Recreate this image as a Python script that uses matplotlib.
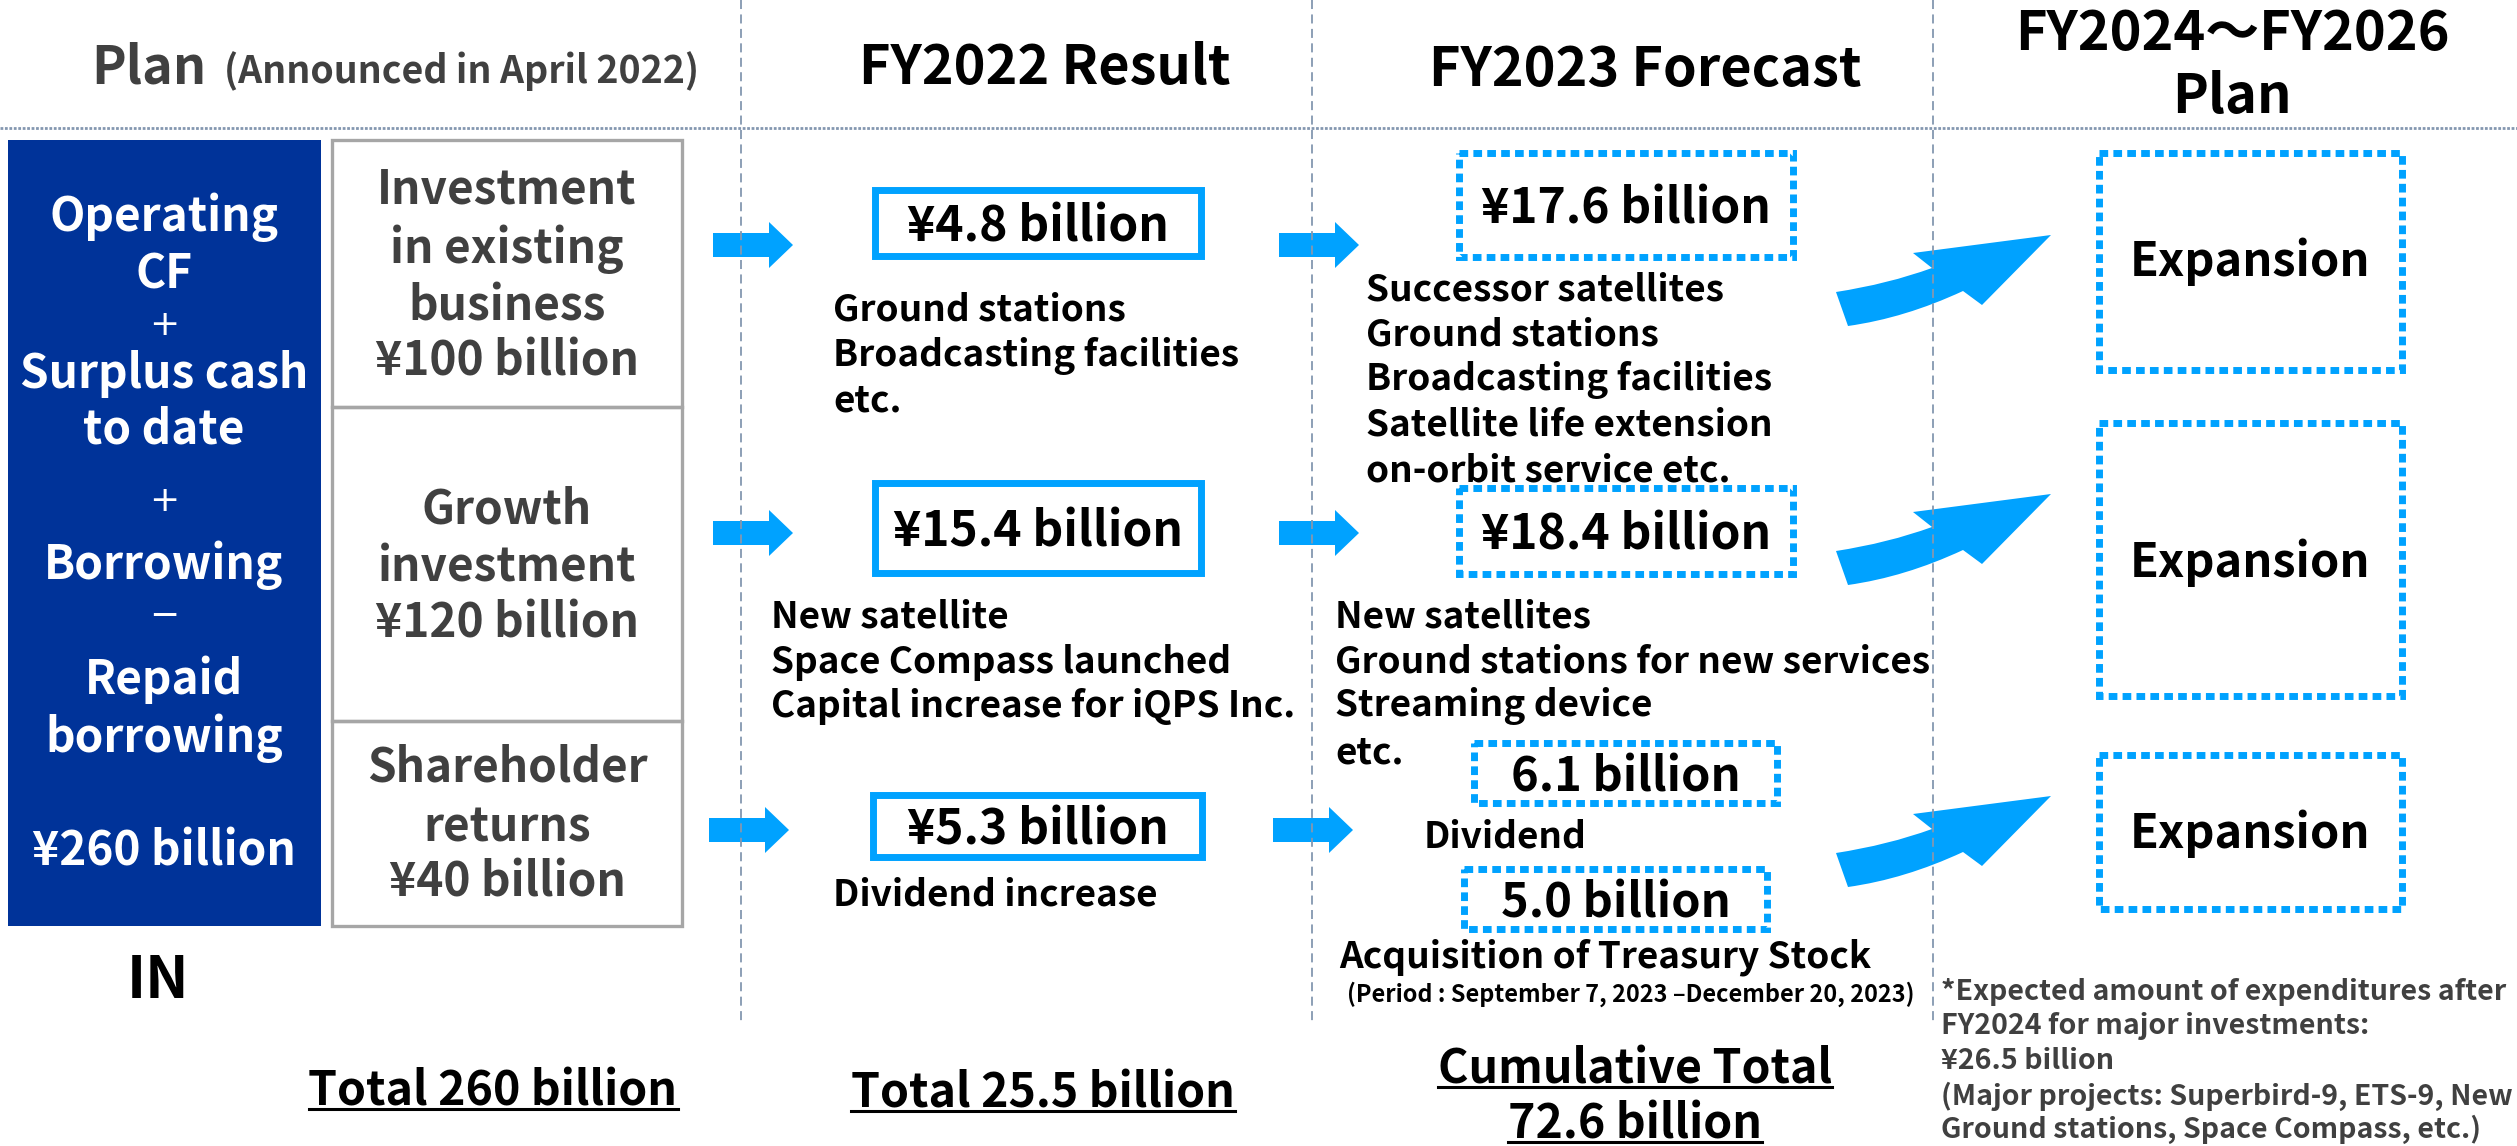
import matplotlib
matplotlib.use("Agg")
import matplotlib.pyplot as plt
from matplotlib.patches import Rectangle, PathPatch
from matplotlib.path import Path

plt.rcParams['font.family'] = ['Noto Sans CJK JP', 'DejaVu Sans']
plt.rcParams['font.weight'] = 'bold'

# ===== Data =====
column_titles = ["FY2022 Result", "FY2023 Forecast", "FY2024～FY2026\nPlan"]
source_lines = ["Operating", "CF", "+", "Surplus cash", "to date", "+",
                "Borrowing", "\u2212", "Repaid", "borrowing", "¥260 billion"]
plan_names = [["Investment", "in existing", "business"],
              ["Growth", "investment"],
              ["Shareholder", "returns"]]
plan_amounts = [100, 120, 40]
fy2022_amounts = [4.8, 15.4, 5.3]
fy2022_notes = [["Ground stations", "Broadcasting facilities", "etc."],
                ["New satellite", "Space Compass launched", "Capital increase for iQPS Inc."],
                ["Dividend increase"]]
fy2023_invest = [17.6, 18.4]
fy2023_notes = [["Successor satellites", "Ground stations", "Broadcasting facilities",
                 "Satellite life extension", "on-orbit service etc."],
                ["New satellites", "Ground stations for new services", "Streaming device", "etc."]]
fy2023_returns = [6.1, 5.0]
fy2023_return_labels = ["Dividend", "Acquisition of Treasury Stock"]
buyback_period = "(Period : September 7, 2023 \u2013December 20, 2023)"
plan_label = "Expansion"
footnote = ["*Expected amount of expenditures after", "FY2024 for major investments:",
            "¥26.5 billion", "(Major projects: Superbird-9, ETS-9, New",
            "Ground stations, Space Compass, etc.)"]

total_plan = sum(plan_amounts)
total_2022 = sum(fy2022_amounts)
total_cum = total_2022 + sum(fy2023_invest) + sum(fy2023_returns)

# ===== Styles =====
NAVY = '#003399'
CYAN = '#00A2FF'
GRID = '#8497B0'
DARK = '#404040'

W, H = 2517, 1146
fig = plt.figure(figsize=(W / 100, H / 100), dpi=100)
ax = fig.add_axes([0, 0, 1, 1])
ax.set_xlim(0, W)
ax.set_ylim(H, 0)
ax.axis('off')


def pt(px):
    return px * 0.72


def txt(x, y, s, size, color='black', ha='center', **kw):
    # nudge down a bit: matplotlib centres on the full line box incl. descent
    return ax.text(x, y + 0.09 * size, s, fontsize=pt(size), color=color, ha=ha,
                   va='center', fontweight='bold', **kw)


def stack(x, ys, items, size, color='black', ha='center'):
    for y, s in zip(ys, items):
        txt(x, y, s, size, color, ha)


def right_arrow(x0, x1, yc):
    hx = x1 - 24
    verts = [(x0, yc - 12), (hx, yc - 12), (hx, yc - 23), (x1, yc), (hx, yc + 23),
             (hx, yc + 12), (x0, yc + 12), (x0, yc - 12)]
    ax.add_patch(plt.Polygon(verts, closed=True, color=CYAN, lw=0))


def curved_arrow(t):
    verts = [(1836, t + 57), (1888, t + 49), (1932, t + 33), (1913, t + 18),
             (2051, t), (1982, t + 70), (1963, t + 56), (1905, t + 83),
             (1848, t + 91), (1836, t + 57)]
    codes = [Path.MOVETO, Path.CURVE3, Path.CURVE3, Path.LINETO, Path.LINETO,
             Path.LINETO, Path.LINETO, Path.CURVE3, Path.CURVE3, Path.CLOSEPOLY]
    ax.add_patch(PathPatch(Path(verts, codes), color=CYAN, lw=0))


def box(x0, y0, x1, y1, dotted=False):
    ls = (0, (1.25, 0.75)) if dotted else '-'
    ax.add_patch(Rectangle((x0, y0), x1 - x0, y1 - y0, fill=False,
                           edgecolor=CYAN, lw=5, linestyle=ls,
                           capstyle='butt', joinstyle='miter'))


# ===== Grid lines =====
ax.plot([0, W], [128, 128], color=GRID, lw=2, ls=(0, (1, 0.6)))
for x in [741, 1312, 1933]:
    ax.plot([x, x], [0, 1023], color=GRID, lw=1.3, ls=(0, (5, 3)))

# ===== Headers =====
txt(91, 63, "Plan", 52, DARK, ha='left')
txt(224, 68, "(Announced in April 2022)", 37.5, DARK, ha='left')
txt(1045, 64, column_titles[0], 54)
txt(1645, 66, column_titles[1], 54)
t1, t2 = column_titles[2].split("\n")
txt(2232, 30, t1, 54)
txt(2232, 93, t2, 54)

# ===== Source box =====
ax.add_patch(Rectangle((8, 140), 313, 786, color=NAVY, lw=0))
src_y = [213, 270, 325, 370, 425, 501, 561, 616, 676, 734, 847]
for y, s in zip(src_y, source_lines):
    if s in ("+", "\u2212"):
        ax.text(164, y, s, fontsize=pt(36), color='white', ha='center', va='center',
                fontweight='normal', family='DejaVu Sans')
    else:
        txt(164, y, s, 46, 'white')
txt(158, 976, "IN", 58)

# ===== Plan boxes =====
row_edges = [140, 407, 721, 926]
plan_ys = [[185, 245, 302, 357], [505, 563, 619], [763, 823, 878]]
for i in range(3):
    ax.add_patch(Rectangle((332, row_edges[i]), 350, row_edges[i + 1] - row_edges[i],
                           fill=False, edgecolor='#A6A6A6', lw=2.4))
    stack(507, plan_ys[i], plan_names[i] + [f"¥{plan_amounts[i]} billion"], 46, DARK)

# ===== Arrows =====
arrow_y = [245, 533, 830]
for i, y in enumerate(arrow_y):
    right_arrow(713 - (4 if i == 2 else 0), 793 - (4 if i == 2 else 0), y)
    right_arrow(1279 - (6 if i == 2 else 0), 1359 - (6 if i == 2 else 0), y)
for t in [235, 494, 796]:
    curved_arrow(t)

# ===== FY2022 column =====
res_boxes = [(875, 190, 1201, 256), (875, 483, 1201, 573), (873, 795, 1202, 857)]
for (x0, y0, x1, y1), v in zip(res_boxes, fy2022_amounts):
    box(x0, y0, x1, y1)
    txt((x0 + x1) / 2, (y0 + y1) / 2, f"¥{v} billion", 48)
stack(833, [307, 353, 398], fy2022_notes[0], 37, ha='left')
stack(771, [614, 659, 703], fy2022_notes[1], 37, ha='left')
stack(833, [892], fy2022_notes[2], 37, ha='left')

# ===== FY2023 column =====
fc_boxes = [(1459, 153, 1793, 257), (1459, 488, 1793, 574)]
for (x0, y0, x1, y1), v in zip(fc_boxes, fy2023_invest):
    box(x0, y0, x1, y1, dotted=True)
    txt((x0 + x1) / 2, (y0 + y1) / 2, f"¥{v} billion", 48)
stack(1366, [287, 332, 377, 422, 468], fy2023_notes[0], 37, ha='left')
stack(1335, [614, 659, 703, 750], fy2023_notes[1], 37, ha='left')

ret_boxes = [(1474, 743, 1777, 803), (1464, 869, 1767, 929)]
for (x0, y0, x1, y1), v in zip(ret_boxes, fy2023_returns):
    box(x0, y0, x1, y1, dotted=True)
    txt((x0 + x1) / 2, (y0 + y1) / 2, f"{v} billion", 47)
txt(1424, 834, fy2023_return_labels[0], 37, ha='left')
txt(1339, 954, fy2023_return_labels[1], 37, ha='left')
txt(1347, 992, buyback_period, 23.5, ha='left')

# ===== FY2024-2026 column =====
plan_boxes = [(2099, 153, 2402, 370), (2099, 423, 2402, 696), (2099, 755, 2402, 909)]
plan_ty = [258, 559, 830]
for (x0, y0, x1, y1), y in zip(plan_boxes, plan_ty):
    box(x0, y0, x1, y1, dotted=True)
    txt((x0 + x1) / 2, y, plan_label, 47)

stack(1941, [989, 1023, 1058, 1094, 1127], footnote, 28.5, DARK, ha='left')

# ===== Totals (underlined) =====
tot_texts = [(493, 1087, f"Total {total_plan} billion"),
             (1043, 1089, f"Total {total_2022:.1f} billion"),
             (1635, 1065, "Cumulative Total"),
             (1635, 1120, f"{total_cum:.1f} billion")]
handles = [txt(x, y, s, 46.5) for x, y, s in tot_texts]
fig.canvas.draw()
inv = ax.transData.inverted()
for (x, y, s), h in zip(tot_texts, handles):
    bb = h.get_window_extent()
    (bx0, _), (bx1, _) = inv.transform([(bb.x0, bb.y0), (bb.x1, bb.y0)])
    ax.plot([bx0, bx1], [y + 22, y + 22], color='black', lw=2.2)

fig.savefig("out.png", dpi=100)
